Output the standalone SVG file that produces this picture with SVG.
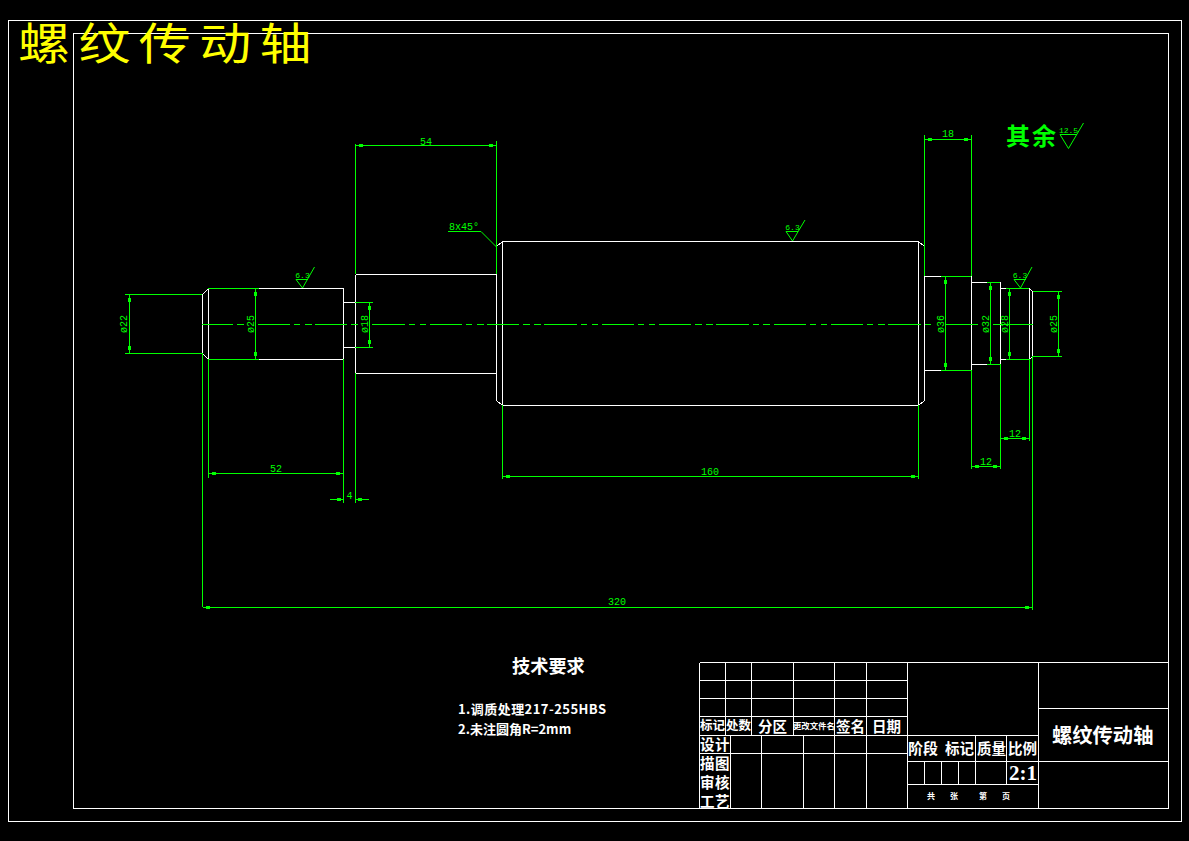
<svg xmlns="http://www.w3.org/2000/svg" width="1189" height="841" viewBox="0 0 1189 841">
<style>
.w{stroke:#fff;stroke-width:1;fill:none;shape-rendering:crispEdges}
.g{stroke:#0f0;stroke-width:1;fill:none;shape-rendering:crispEdges}
.t{stroke:#0f0;stroke-width:1;fill:none}
.d{stroke:#0f0;stroke-width:1;fill:none;shape-rendering:crispEdges;marker-start:url(#as);marker-end:url(#ae)}
.n{font-family:"Liberation Mono",monospace;font-size:10px;fill:#0f0;text-anchor:middle}
.c{font-family:"Noto Sans CJK SC","Liberation Serif",serif;fill:#fff;font-weight:700}
.m{fill:#0f0;shape-rendering:crispEdges}
</style>
<defs>
<marker id="as" markerUnits="userSpaceOnUse" markerWidth="20" markerHeight="8" refX="0" refY="4" orient="auto" overflow="visible"><rect class="m" x="3.500" y="2.500" width="4" height="3"/></marker>
<marker id="ae" markerUnits="userSpaceOnUse" markerWidth="20" markerHeight="8" refX="10" refY="4" orient="auto" overflow="visible"><rect class="m" x="2.500" y="2.500" width="4" height="3"/></marker>
</defs>
<rect width="1189" height="841" fill="#000"/>
<g id="frame">
<rect class="w" x="8.500" y="20.500" width="1173" height="801"/>
<rect class="w" x="73.500" y="33.500" width="1095" height="775"/>
</g>
<text id="drawing-title" transform="translate(18 60) scale(1 .85)" font-family="Noto Sans CJK SC,Liberation Serif,serif" font-size="52" letter-spacing="8.400" fill="#ff0">螺纹传动轴</text>
<g id="shaft">
<path class="w" d="M202.500 294.500L208.500 288.500H343.500V359.500H208.500L202.500 353.500ZM208.500 288.500V359.500M343.500 302.500H355.500M343.500 347.500H355.500M355.500 274.500H496.500M355.500 373.500H496.500M355.500 274.500V373.500M496.500 246.500L502.500 241.500H918.500L924.500 246.500V400.500L918.500 405.500H502.500L496.500 400.500ZM502.500 241.500V405.500M918.500 241.500V405.500M924.500 276.500H971.500V370.500H924.500M971.500 282.500H1000.500V364.500H971.500M1000.500 288.500H1029.500V359.500H1000.500M1029.500 288.500L1032.500 291.500V356.500L1029.500 359.500Z"/>
</g>
<g id="connectors">
<path class="g" d="M202 324.500H233M237 324.500H244M258 324.500H290M294 324.500H300M305 324.500H312M315 324.500H347M351 324.500H358M372 324.500H405M409 324.500H415M420 324.500H426M430 324.500H462M466 324.500H472M477 324.500H484M487 324.500H519M523 324.500H530M534 324.500H541M544 324.500H577M581 324.500H587M592 324.500H598M602 324.500H634M638 324.500H644M649 324.500H655M659 324.500H691M695 324.500H702M706 324.500H713M716 324.500H749M753 324.500H759M763 324.500H770M774 324.500H806M810 324.500H816M821 324.500H827M831 324.500H863M867 324.500H873M878 324.500H885M888 324.500H921M925 324.500H931M946 324.500H978M993 324.500H1033"/>
<path class="g" d="M202.500 353V607M208.500 359V478M343.500 359V503M355.500 144V274M355.500 373V503M496.500 141V274M502.500 405V479M918.500 405V479M924.500 135V276M971.500 135V276M971.500 370V469M1000.500 364V469M1029.500 359V441M1032.500 356V610"/>
<path class="g" d="M125 294.500H202M125 353.500H202M208 288.500H259M208 359.500H259M355 302.500H373M355 347.500H373M941 276.500H971M941 370.500H971M987 282.500H1000M987 364.500H1000M1006 288.500H1029M1006 359.500H1029M1033 291.500H1062M1033 356.500H1062"/>
<path class="d" d="M129.500 294.500V353.500"/><path class="d" d="M255.500 288.500V359.500"/><path class="d" d="M369.500 302.500V347.500"/>
<path class="d" d="M945.500 276.500V370.500"/><path class="d" d="M990.500 282.500V364.500"/><path class="d" d="M1009.500 288.500V359.500"/><path class="d" d="M1058.500 291.500V356.500"/>
<path class="d" d="M355.500 145.500H496.500"/><path class="d" d="M924.500 139.500H971.500"/><path class="d" d="M208.500 473.500H343.500"/><path class="d" d="M502.500 476.500H918.500"/><path class="d" d="M971.500 466.500H1000.500"/><path class="d" d="M1000.500 438.500H1029.500"/><path class="d" d="M202.500 607.500H1032.500"/>
<path class="g" d="M330 499.500H343M355 499.500H369"/>
<rect class="m" x="337" y="498" width="4" height="3"/><rect class="m" x="358" y="498" width="4" height="3"/>
<path class="t" d="M448 231.500H481L496.500 247"/>
</g>
<g id="dimension-labels">
<text class="n" x="426" y="145">54</text>
<text class="n" x="948" y="137">18</text>
<text class="n" x="276" y="472">52</text>
<text class="n" x="349.500" y="499">4</text>
<text class="n" x="710" y="475">160</text>
<text class="n" x="986" y="465">12</text>
<text class="n" x="1015" y="437">12</text>
<text class="n" x="617" y="605">320</text>
<text class="n" x="464" y="230">8x45°</text>
<text class="n" transform="translate(127 324) rotate(-90)">ø22</text>
<text class="n" transform="translate(254 324) rotate(-90)">ø25</text>
<text class="n" transform="translate(367.500 324) rotate(-90)">ø18</text>
<text class="n" transform="translate(943.500 324) rotate(-90)">ø36</text>
<text class="n" transform="translate(989 324) rotate(-90)">ø32</text>
<text class="n" transform="translate(1008 324) rotate(-90)">ø28</text>
<text class="n" transform="translate(1057 324) rotate(-90)">ø25</text>
</g>
<g id="roughness">
<path class="t" d="M296 279.500H308M296 279.500L302.500 288L314.500 267"/>
<text class="n" x="302.500" y="278" style="font-size:8px">6.3</text>
<path class="t" d="M786 231.500H798M786 231.500L792.500 241L805 220"/>
<text class="n" x="792.500" y="230" style="font-size:8px">6.3</text>
<path class="t" d="M1014 279.500H1026M1014 279.500L1020.500 288L1032 267"/>
<text class="n" x="1020" y="278" style="font-size:8px">6.3</text>
<path class="t" d="M1060 134.500H1077M1060 134.500L1068.500 148.500L1083.500 123"/>
<text class="n" x="1068.500" y="133" style="font-size:8px">12.5</text>
<text x="1006" y="145" font-family="Noto Sans CJK SC,sans-serif" font-weight="700" font-size="24" letter-spacing="2" fill="#0f0">其余</text>
</g>
<g id="notes">
<text class="c" x="512" y="673" font-size="18.200">技术要求</text>
<text class="c" x="458" y="714" font-size="13" letter-spacing=".45">1.调质处理217-255HBS</text>
<text class="c" x="458" y="734" font-size="13">2.未注圆角R=2mm</text>
</g>
<g id="title-block">
<path class="w" d="M699.500 662.500H1168.500M699.500 680.500H907.500M699.500 698.500H907.500M699.500 716.500H907.500M699.500 735.500H1038.500M699.500 753.500H907.500M1038.500 708.500H1168.500M907.500 761.500H1168.500M907.500 784.500H1038.500"/>
<path class="w" d="M699.500 662.500V808.500M725.500 662.500V735.500M751.500 662.500V735.500M793.500 662.500V735.500M834.500 662.500V808.500M866.500 662.500V808.500M907.500 662.500V808.500M1038.500 662.500V808.500M730.500 735.500V808.500M761.500 735.500V808.500M803.500 735.500V808.500M924.500 761.500V784.500M941.500 761.500V784.500M958.500 761.500V784.500M975.500 735.500V784.500M1006.500 735.500V784.500"/>
<g class="c">
<text x="700" y="730" font-size="12.500">标记</text>
<text x="726" y="730" font-size="12.500">处数</text>
<text x="758" y="732" font-size="14.500">分区</text>
<text x="793" y="729" font-size="8.400">更改文件名</text>
<text x="836" y="732" font-size="14.500">签名</text>
<text x="872" y="732" font-size="14.500">日期</text>
<text x="700" y="749.500" font-size="14.500" letter-spacing=".5">设计</text>
<text x="700" y="768.500" font-size="14.500" letter-spacing=".5">描图</text>
<text x="700" y="787.500" font-size="14.500" letter-spacing=".5">审核</text>
<text x="700" y="806.500" font-size="14.500" letter-spacing=".5">工艺</text>
<text x="908" y="754" font-size="15">阶段</text>
<text x="945" y="754" font-size="14.500">标记</text>
<text x="977" y="754" font-size="14.500">质量</text>
<text x="1008" y="754" font-size="14.500">比例</text>
<text x="1009" y="780" font-size="21" font-family="Liberation Serif,serif">2:1</text>
<text x="927" y="799" font-size="8">共</text>
<text x="950" y="799" font-size="8">张</text>
<text x="979" y="799" font-size="8">第</text>
<text x="1002" y="799" font-size="8">页</text>
<text x="1052" y="743" font-size="20.300">螺纹传动轴</text>
</g>
</g>
</svg>
